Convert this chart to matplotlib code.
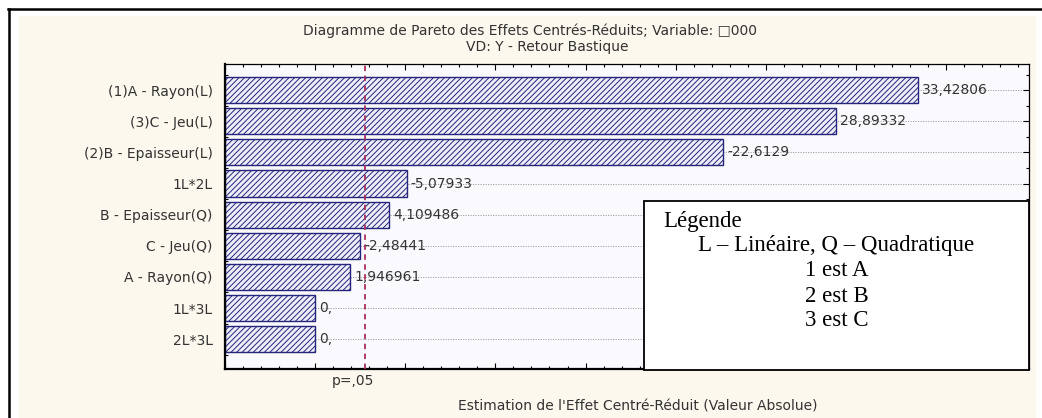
import numpy as np
import matplotlib
matplotlib.use("Agg")
import matplotlib.pyplot as plt
from matplotlib.patches import Rectangle
from matplotlib.lines import Line2D
from matplotlib.ticker import MultipleLocator

plt.rcParams['font.family'] = ['DejaVu Sans']
plt.rcParams['hatch.linewidth'] = 0.7

# effets centres-reduits (signes), du plus grand au plus petit
effects = ["(1)A - Rayon(L)", "(3)C - Jeu(L)", "(2)B - Epaisseur(L)", "1L*2L",
           "B - Epaisseur(Q)", "C - Jeu(Q)", "A - Rayon(Q)", "1L*3L", "2L*3L"]
t_values = [33.42806, 28.89332, -22.6129, -5.07933, 4.109486, -2.48441, 1.946961, 0.0, 0.0]
p_limit = 2.776  # t critique, p=,05

title_1 = "Diagramme de Pareto des Effets Centrés-Réduits; Variable: \u25a1000"
title_2 = "VD: Y - Retour Bastique"
x_title = "Estimation de l'Effet Centré-Réduit (Valeur Absolue)"
legend_lines = ["Légende", "L \u2013 Linéaire, Q \u2013 Quadratique", "1 est A", "2 est B", "3 est C"]

W, H = 1042, 418
fig = plt.figure(figsize=(W / 100, H / 100), dpi=100, facecolor='white')


def fx(px):
    return px / W


def fy(py):
    return 1 - py / H


# cadre et fond beige
fig.add_artist(Rectangle((fx(19), 0), fx(1036) - fx(19), fy(16), transform=fig.transFigure,
                         facecolor='#fcf8ee', edgecolor='none', zorder=0))
fig.add_artist(Line2D([fx(8), 1], [fy(9), fy(9)], transform=fig.transFigure, color='black', lw=1.8))
fig.add_artist(Line2D([fx(9), fx(9)], [fy(9), 0], transform=fig.transFigure, color='black', lw=1.8))

ax = fig.add_axes([fx(225), fy(369), fx(1029) - fx(225), fy(64) - fy(369)])
ax.set_facecolor('#f9f9fe')

xmin, xmax = -5.0, 39.6
ypos = np.arange(len(effects))
lengths = np.abs(t_values)
txt = '#333333'
fs = 10

ax.yaxis.grid(True, linestyle=(0, (1.5, 1.5)), color='#9a9a9a', lw=0.6, zorder=0)
ax.barh(ypos, lengths - xmin, left=xmin, height=0.84, facecolor='#eeeefa',
        edgecolor='#25257a', hatch='//////', lw=1.0, zorder=2)


def fmt(v):
    s = f"{v:.7g}".replace('.', ',')
    return s if ',' in s else s + ','


for y, v, a in zip(ypos, t_values, lengths):
    ax.annotate(fmt(v), (a, y), xytext=(3, 0), textcoords='offset points',
                va='center', ha='left', fontsize=fs, color=txt, zorder=4)

ax.axvline(p_limit, color='#a8305e', lw=1.3, linestyle=(0, (3, 2.5)), zorder=3)

ax.set_xlim(xmin, xmax)
ax.set_ylim(len(effects) - 1 + 0.96, -0.84)
ax.set_yticks(ypos)
ax.set_yticklabels(effects, fontsize=fs, color=txt)
ax.yaxis.set_minor_locator(MultipleLocator(0.5))
ax.xaxis.set_major_locator(MultipleLocator(5))
ax.xaxis.set_minor_locator(MultipleLocator(1))
ax.tick_params(axis='both', which='both', direction='in', top=True, right=True, width=0.8)
ax.tick_params(axis='both', which='major', length=4)
ax.tick_params(axis='both', which='minor', length=2.5)
ax.tick_params(axis='x', labelbottom=False)
ax.tick_params(axis='y', pad=9)
for side in ['top', 'right']:
    ax.spines[side].set_linewidth(0.9)
for side in ['left', 'bottom']:
    ax.spines[side].set_linewidth(1.6)

# titres
fig.text(fx(530), fy(31), title_1, ha='center', va='center', fontsize=fs, color=txt)
fig.text(fx(547), fy(47), title_2, ha='center', va='center', fontsize=fs, color=txt)
fig.text(fx(638), fy(407), x_title, ha='center', va='center', fontsize=fs, color=txt)
fig.text(fx(353), fy(381), "p=,05", ha='center', va='center', fontsize=fs, color=txt)

# encadre de legende
box_l, box_r, box_t, box_b = 644, 1029, 201, 370
fig.add_artist(Rectangle((fx(box_l), fy(box_b)), fx(box_r) - fx(box_l), fy(box_t) - fy(box_b),
                         transform=fig.transFigure, facecolor='white', edgecolor='black',
                         lw=1.3, zorder=5))
serif = ['Liberation Serif', 'DejaVu Serif']
fig.text(fx(663), fy(222), legend_lines[0], ha='left', va='center', fontsize=16.5,
         family=serif, zorder=6)
for i, line in enumerate(legend_lines[1:]):
    fig.text(fx((box_l + box_r) / 2), fy(246 + 25 * i), line, ha='center', va='center',
             fontsize=16.5, family=serif, zorder=6)

fig.savefig("out.png", dpi=100, facecolor='white')
